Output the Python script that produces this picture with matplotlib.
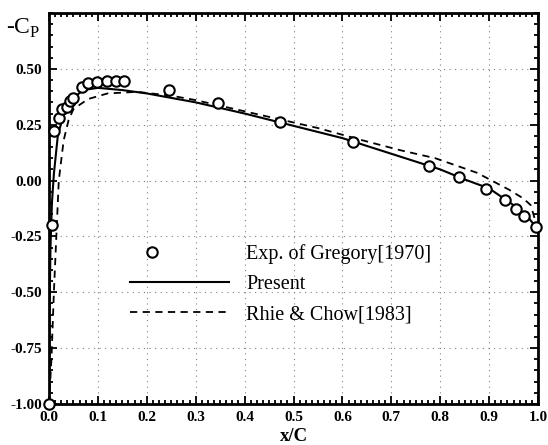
import matplotlib
matplotlib.use("Agg")
import matplotlib.pyplot as plt
from matplotlib.ticker import MultipleLocator, AutoMinorLocator, FormatStrFormatter
from matplotlib.lines import Line2D
from matplotlib.legend_handler import HandlerLine2D

# ===== Data =====
exp_x = [0.0, 0.006, 0.010, 0.020, 0.026, 0.036, 0.043, 0.049, 0.067, 0.080,
         0.098, 0.118, 0.137, 0.154, 0.245, 0.346, 0.472, 0.622, 0.777, 0.838,
         0.894, 0.933, 0.955, 0.971, 0.995]
exp_cp = [-1.0, -0.20, 0.223, 0.28, 0.32, 0.33, 0.355, 0.37, 0.42, 0.435,
          0.442, 0.446, 0.446, 0.446, 0.406, 0.348, 0.263, 0.174, 0.067, 0.018,
          -0.036, -0.085, -0.125, -0.16, -0.21]

present_x = [0.0, 0.001, 0.003, 0.006, 0.010, 0.018, 0.030, 0.050, 0.070, 0.100,
             0.150, 0.200, 0.250, 0.300, 0.350, 0.400, 0.500, 0.600, 0.700, 0.750,
             0.800, 0.850, 0.900, 0.950, 0.980, 1.0]
present_cp = [-1.0, -0.6, -0.3, -0.1, 0.03, 0.20, 0.30, 0.37, 0.405, 0.415,
              0.405, 0.39, 0.37, 0.35, 0.325, 0.30, 0.245, 0.19, 0.12, 0.085,
              0.05, 0.005, -0.035, -0.11, -0.165, -0.22]

rhie_x = [0.0, 0.005, 0.010, 0.015, 0.020, 0.030, 0.040, 0.050, 0.080, 0.120,
          0.180, 0.250, 0.300, 0.370, 0.450, 0.550, 0.650, 0.720, 0.790, 0.875,
          0.940, 0.970, 0.985, 1.0]
rhie_cp = [-1.0, -0.8, -0.5, -0.25, 0.0, 0.18, 0.27, 0.32, 0.365, 0.39,
           0.397, 0.38, 0.36, 0.325, 0.285, 0.235, 0.175, 0.135, 0.10, 0.035,
           -0.04, -0.08, -0.11, -0.22]

labels = ["Exp. of Gregory[1970]", "Present", "Rhie & Chow[1983]"]


# legend handler that puts the single marker near the left of the handle
# (with one point, matplotlib marks the middle of xdata, so shrink xdata)
class LeftMarker(HandlerLine2D):
    def get_xdata(self, legend, xdescent, ydescent, width, height, fontsize):
        xd, xm = super().get_xdata(legend, xdescent, ydescent, width, height, fontsize)
        return [-xdescent, -xdescent + 0.44 * width], xm


# ===== Style =====
plt.rcParams['font.family'] = ['Liberation Serif', 'DejaVu Serif']
plt.rcParams['mathtext.fontset'] = 'custom'
plt.rcParams['mathtext.rm'] = 'Liberation Serif'
plt.rcParams['axes.unicode_minus'] = False

fig = plt.figure(figsize=(5.48, 4.45), dpi=100)
ax = fig.add_axes([0.0894, 0.0921, 0.8924, 0.8787])

ax.plot(present_x, present_cp, color='black', lw=1.5, solid_joinstyle='round')
ax.plot(rhie_x, rhie_cp, color='black', lw=1.3, dashes=(4, 3))
ax.plot(exp_x, exp_cp, 'o', mfc='white', mec='black', ms=7.5, mew=1.5,
        clip_on=False, zorder=5)

ax.set_xlim(0, 1)
ax.set_ylim(-1.0, 0.75)
ax.xaxis.set_major_locator(MultipleLocator(0.1))
ax.xaxis.set_minor_locator(AutoMinorLocator(8))
ax.yaxis.set_major_locator(MultipleLocator(0.25))
ax.yaxis.set_minor_locator(AutoMinorLocator(5))
ax.xaxis.set_major_formatter(FormatStrFormatter('%.1f'))
ax.yaxis.set_major_formatter(FormatStrFormatter('%.2f'))
ax.set_yticks([-1.0, -0.75, -0.5, -0.25, 0.0, 0.25, 0.5])

ax.tick_params(which='both', direction='in', top=True, right=True, width=1.3)
ax.tick_params(which='major', length=6, labelsize=11)
ax.tick_params(axis='x', which='major', pad=5)
ax.tick_params(axis='y', which='major', pad=5)
ax.tick_params(which='minor', length=3)
for lab in ax.get_xticklabels() + ax.get_yticklabels():
    lab.set_fontweight('bold')
for s in ax.spines.values():
    s.set_linewidth(2)

ax.grid(which='major', linestyle=(0, (1, 4)), color='gray', lw=0.8)

ax.set_xlabel('x/C', fontsize=13.5, fontweight='bold')
ax.xaxis.set_label_coords(0.5, -0.062)
ax.text(-0.088, 0.99, r'-C$_\mathrm{P}$', transform=ax.transAxes,
        fontsize=17, va='top', ha='left')

handles = [
    Line2D([], [], ls='none', marker='o', mfc='white', mec='black', ms=7.5, mew=1.5),
    Line2D([], [], color='black', lw=1.5),
    Line2D([], [], color='black', lw=1.3, dashes=(4, 3)),
]
ax.legend(handles, labels, loc='upper left', bbox_to_anchor=(0.166, 0.41),
          frameon=False, fontsize=14.5, handlelength=4.9, handletextpad=0.85,
          labelspacing=0.56, borderpad=0, borderaxespad=0,
          handler_map={handles[0]: LeftMarker(numpoints=1)})

fig.savefig('out.png', dpi=100)
